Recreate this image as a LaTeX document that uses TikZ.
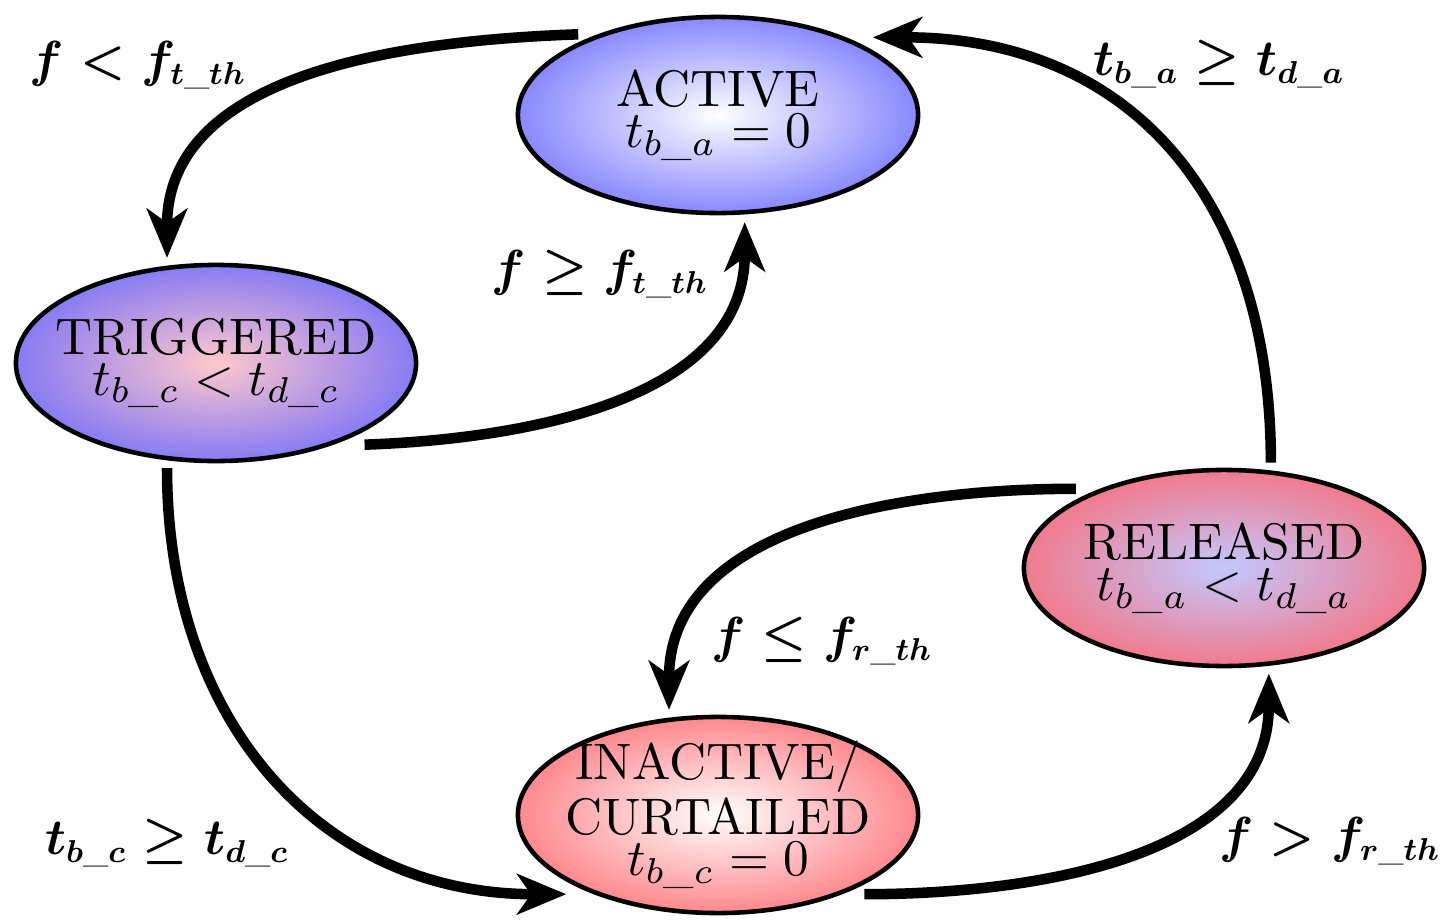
\documentclass[tikz,border=0pt]{standalone}
\usepackage{amsmath,amssymb}
\usetikzlibrary{shapes.geometric,arrows.meta}
\definecolor{blueO}{RGB}{98,98,255}
\definecolor{redO}{RGB}{255,98,105}
\definecolor{pinkC}{RGB}{255,200,205}
\definecolor{lblueC}{RGB}{195,200,255}
\pgfdeclareradialshading{shActive}{\pgfpointorigin}{color(0bp)=(white); color(33bp)=(blueO); color(50bp)=(blueO)}
\pgfdeclareradialshading{shTrig}{\pgfpointorigin}{color(0bp)=(pinkC); color(33bp)=(blueO); color(50bp)=(blueO)}
\pgfdeclareradialshading{shRel}{\pgfpointorigin}{color(0bp)=(lblueC); color(33bp)=(redO); color(50bp)=(redO)}
\pgfdeclareradialshading{shInact}{\pgfpointorigin}{color(0bp)=(white); color(33bp)=(redO); color(50bp)=(redO)}
\begin{document}
\begin{tikzpicture}[x=0.01cm,y=0.01cm,
  state/.style={ellipse, draw, line width=1.3pt, minimum width=4cm, minimum height=1.96cm, inner sep=0pt, outer sep=0.1cm},
  txt/.style={align=center, font=\fontsize{10}{8}\selectfont, inner sep=0pt, scale=1.46, transform shape},
  arr/.style={line width=3pt, -{Stealth[length=14pt,width=11.5pt,inset=4pt]}},
  lbl/.style={font=\fontsize{13.3}{15}\selectfont\boldmath, inner sep=0pt}]
\useasboundingbox (0,0) rectangle (1441,920);
\node[state, shading=shActive, label={[txt, name=ACTIVEtxt]center:{ACTIVE\\$t_{b\_a}=0$}}] (ACTIVE) at (718,805) {};
\node[state, shading=shTrig, label={[txt, name=TRIGtxt]center:{TRIGGERED\\$t_{b\_c}<t_{d\_c}$}}] (TRIG) at (216,557) {};
\node[state, shading=shRel, label={[txt, name=RELtxt]center:{RELEASED\\$t_{b\_a}<t_{d\_a}$}}] (REL) at (1224,352) {};
\node[state, shading=shInact, label={[txt, name=INACTtxt]center:{INACTIVE/\\CURTAILED\\$t_{b\_c}=0$}}] (INACT) at (718,105) {};

\draw[arr] (ACTIVE.150) to[out=182,in=90] (TRIG.115);
\draw[arr, shorten <=3.4pt] (TRIG.329) to[out=2,in=-90] (ACTIVE.284);
\draw[arr, shorten >=2.5pt] (TRIG.245) to[out=-90,in=180,looseness=1.1] (INACT.209);
\draw[arr, shorten <=1pt] (INACT.331) to[out=0,in=-90] (REL.293);
\draw[arr, shorten <=1.5pt] (REL.151) to[out=180,in=90] (INACT.115);
\draw[arr, shorten >=2.5pt] (REL.66) to[out=90,in=0,looseness=1.15] (ACTIVE.28);

\node[lbl] (L1) at (138,855) {$f<f_{t\_th}$};
\node[lbl] (L2) at (1219,856) {$t_{b\_a}\geq t_{d\_a}$};
\node[lbl] (L3) at (600,646) {$f\geq f_{t\_th}$};
\node[lbl] (L4) at (167,77) {$t_{b\_c}\geq t_{d\_c}$};
\node[lbl] (L5) at (822,279) {$f\leq f_{r\_th}$};
\node[lbl] (L6) at (1330,79) {$f>f_{r\_th}$};
\end{tikzpicture}
\end{document}
